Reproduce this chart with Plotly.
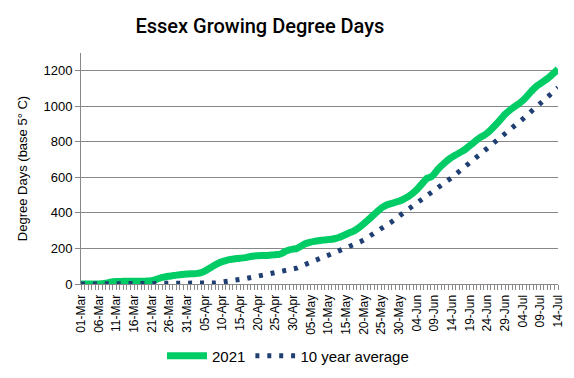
import datetime as dt
import plotly.graph_objects as go

start = dt.date(2021, 3, 1)
dates = [start + dt.timedelta(days=i) for i in range(136)]

gdd_2021 = [
    0, 0, 0, 0, 0, 0, 1, 4, 9, 13,
    14, 14, 15, 15, 15, 15, 16, 16, 16, 17,
    18, 24, 31, 37, 41, 44, 47, 50, 52, 54,
    56, 57, 58, 60, 64, 72, 84, 96, 108, 118,
    126, 132, 137, 140, 143, 145, 147, 150, 155, 158,
    159, 160, 160, 161, 163, 165, 167, 174, 185, 192,
    196, 199, 210, 222, 230, 236, 240, 243, 246, 248,
    250, 252, 256, 262, 270, 279, 288, 296, 308, 322,
    338, 356, 374, 392, 410, 428, 440, 448, 454, 460,
    466, 474, 485, 498, 512, 530, 552, 575, 596, 602,
    620, 645, 665, 683, 700, 714, 726, 737, 748, 762,
    778, 794, 810, 825, 836, 850, 868, 888, 910, 932,
    955, 972, 988, 1002, 1016, 1032, 1052, 1074, 1096, 1114,
    1128, 1142, 1156, 1172, 1190, 1210,
]

gdd_10yr = [
    0, 0, 0, 0, 0, 0, 0, 0, 0, 0,
    0, 0, 0, 0, 0, 0, 0, 0, 0, 0,
    0, 0, 0, 0, 0, 0, 0, 0, 0, 0,
    0, 0, 0, 1, 1, 2, 3, 4, 6, 8,
    10, 13, 16, 19, 22, 26, 29, 32, 36, 39,
    42, 46, 50, 54, 57, 61, 65, 69, 74, 79,
    84, 89, 98, 107, 116, 124, 132, 140, 148, 155,
    162, 170, 177, 184, 192, 200, 209, 218, 227, 237,
    248, 260, 272, 284, 296, 309, 323, 337, 351, 365,
    383, 400, 413, 426, 440, 452, 465, 479, 493, 507,
    522, 537, 554, 570, 585, 600, 616, 632, 648, 664,
    680, 696, 712, 728, 745, 762, 777, 793, 809, 826,
    843, 862, 876, 893, 911, 928, 946, 964, 985, 1001,
    1020, 1041, 1060, 1078, 1092, 1105,
]

fig = go.Figure()
fig.add_trace(go.Scatter(
    x=dates, y=gdd_2021, mode="lines", name="2021",
    line=dict(color="#00CC66", width=7, shape="spline", smoothing=0.5),
))
fig.add_trace(go.Scatter(
    x=dates, y=gdd_10yr, mode="lines", name="10 year average",
    line=dict(color="#1F3F73", width=5, dash="4px,7.9px"),
))

fig.update_layout(
    width=566, height=370,
    margin=dict(l=73, r=16, t=45, b=94, autoexpand=False),
    paper_bgcolor="white", plot_bgcolor="white",
    title=dict(text="Essex Growing Degree Days", x=0.445, xanchor="center",
               xref="container", y=0.952, yanchor="middle",
               font=dict(family="Roboto", size=20, weight=500, color="#000000")),
    font=dict(family="Liberation Sans, Arial", color="#333333"),
    legend=dict(orientation="h", x=0.434, xanchor="center", y=-0.312, yanchor="middle",
                font=dict(size=15, color="#000000"), itemwidth=40),
    showlegend=True,
)

fig.update_xaxes(
    type="date", automargin=False,
    range=[dates[0], dates[-1]],
    tick0=dates[0], dtick=5 * 86400000,
    tickformat="%d-%b", tickangle=-90,
    tickfont=dict(size=12, color="#000000"),
    showgrid=False, showline=True, linecolor="#888888", linewidth=1,
    ticks="outside", ticklen=5, tickcolor="#888888",
    minor=dict(dtick=86400000, ticks="outside", ticklen=5, tickcolor="#888888", showgrid=False),
    zeroline=False,
)
fig.update_yaxes(
    automargin=False,
    range=[0, 1300], dtick=200,
    tickfont=dict(size=13, color="#000000"),
    title=dict(text="Degree Days (base 5° C)", font=dict(size=13, color="#000000"), standoff=12),
    showgrid=True, gridcolor="#888888", gridwidth=1,
    showline=True, linecolor="#888888", linewidth=1,
    ticks="outside", ticklen=5, tickcolor="#888888",
    zeroline=False,
)

fig.write_html("out.html")
